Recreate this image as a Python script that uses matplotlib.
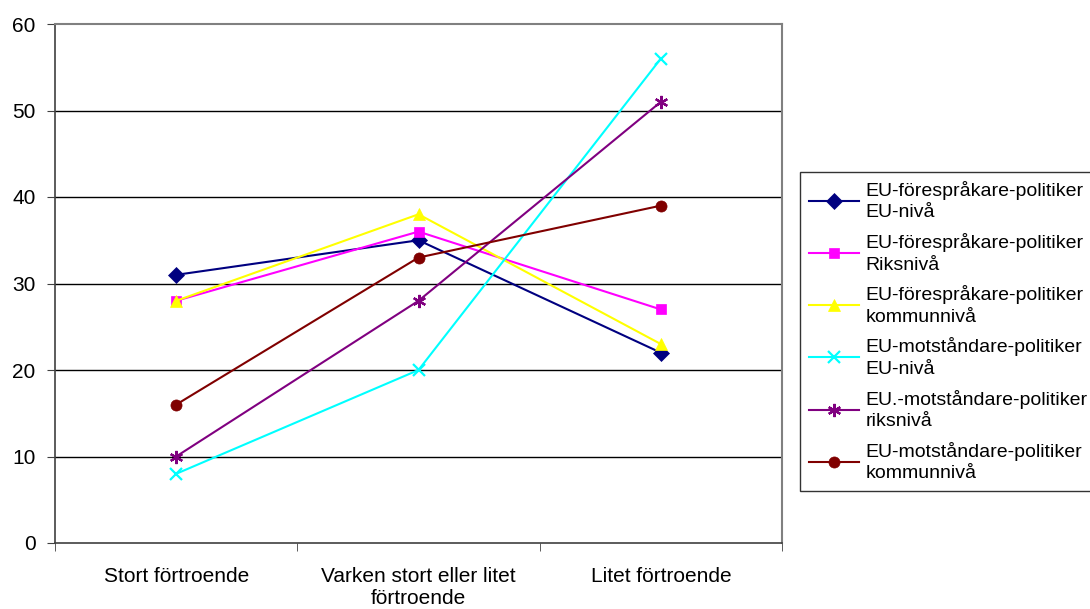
import matplotlib
matplotlib.use("Agg")
import matplotlib.pyplot as plt
import numpy as np

plt.rcParams['font.family'] = ['Liberation Sans', 'DejaVu Sans']

categories = ["Stort förtroende", "Varken stort eller litet\nförtroende", "Litet förtroende"]
series_names = [
    "EU-förespråkare-politiker\nEU-nivå",
    "EU-förespråkare-politiker\nRiksnivå",
    "EU-förespråkare-politiker\nkommunnivå",
    "EU-motståndare-politiker\nEU-nivå",
    "EU.-motståndare-politiker\nriksnivå",
    "EU-motståndare-politiker\nkommunnivå",
]
eu_for_eu = [31, 35, 22]
eu_for_riks = [28, 36, 27]
eu_for_kommun = [28, 38, 23]
eu_mot_eu = [8, 20, 56]
eu_mot_riks = [10, 28, 51]
eu_mot_kommun = [16, 33, 39]
series_values = [eu_for_eu, eu_for_riks, eu_for_kommun, eu_mot_eu, eu_mot_riks, eu_mot_kommun]
colors = ["#000080", "#FF00FF", "#FFFF00", "#00FFFF", "#800080", "#800000"]
markers = ["D", "s", "^", "x", (6, 2, 0), "o"]
msizes = [8, 7.5, 9, 9, 9.5, 8]

fig = plt.figure(figsize=(10.9, 6.09), dpi=100)
ax = fig.add_axes([55/1090, 66/609, 727/1090, 519/609])

x = np.arange(len(categories))
for name, vals, c, m, ms in zip(series_names, series_values, colors, markers, msizes):
    ax.plot(x, vals, color=c, marker=m, markersize=ms, linewidth=1.5,
            markeredgewidth=1.6 if m in ("x", (6, 2, 0)) else 0.5,
            markeredgecolor=c, label=name, zorder=3)

ax.set_xlim(-0.5, 2.5)
ax.set_ylim(0, 60)
ax.set_yticks(range(0, 61, 10))
ax.set_xticks(x)
ax.set_xticklabels(categories, fontsize=15)
ax.tick_params(axis='x', length=0, pad=17)
ax.set_xticks([-0.5, 0.5, 1.5, 2.5], minor=True)
ax.tick_params(axis='x', which='minor', length=6, color='#404040')
ax.tick_params(axis='y', labelsize=15, length=6, color='#404040', pad=8)
for v in range(10, 60, 10):
    ax.axhline(v, color='black', linewidth=1.0, zorder=1)

ax.spines['top'].set_color('#808080')
ax.spines['right'].set_color('#808080')
ax.spines['top'].set_linewidth(1.5)
ax.spines['right'].set_linewidth(1.5)
ax.spines['left'].set_color('#404040')
ax.spines['bottom'].set_color('#404040')
ax.spines['left'].set_linewidth(1.2)
ax.spines['bottom'].set_linewidth(1.2)

leg = fig.legend(loc='upper left', bbox_to_anchor=(800/1090, 1 - 172/609),
                 fontsize=14, frameon=True, fancybox=False, edgecolor='black',
                 handlelength=2.6, labelspacing=0.6, borderpad=0.45,
                 handletextpad=0.3, borderaxespad=0)
for t in leg.get_texts():
    t.set_linespacing(1.35)
leg.get_frame().set_linewidth(1.0)

fig.savefig("out.png", dpi=100)
